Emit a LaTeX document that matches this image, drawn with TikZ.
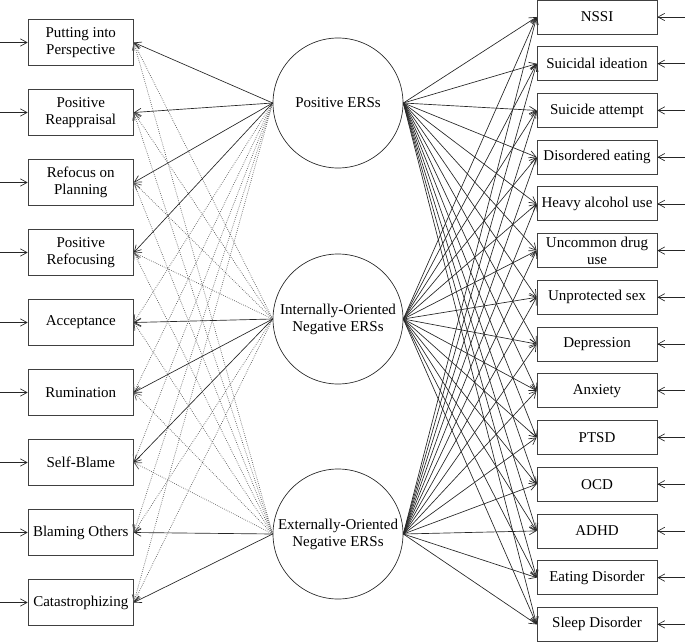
\documentclass[tikz,border=0pt]{standalone}
\usepackage{fontspec}
\setmainfont{Liberation Serif}
\usetikzlibrary{arrows.meta}
\tikzstyle{diagram} = [x = 0.75pt, y = -0.75pt, font=\fontsize{11.25}{12.75}\selectfont]
\tikzstyle{leftBoxStyle} = [draw=black!75, minimum width = 79pt, minimum height = 35pt, align=center, inner sep=0pt, line width=0.6pt]
\tikzstyle{rightBoxStyle} = [draw=black!75, minimum width = 90pt, minimum height = 25.5pt, align=center, inner sep=0pt, line width=0.6pt]
\tikzstyle{factorStyle} = [draw=black!85, circle, minimum size = 97.5pt, align=center, inner sep=0pt, line width=0.5pt]
\tikzstyle{pathArrow} = [-{Straight Barb[length=5pt, width=5.5pt]}, line width=0.5pt, black!85]
\tikzstyle{crossPath} = [pathArrow, densely dotted, black!65, line width=0.55pt]
\newcommand{\leftY}[1]{42.5 + 70 * (#1 - 1)}
\newcommand{\rightY}[1]{17 + 46.72 * (#1 - 1)}

\begin{document}
\begin{tikzpicture}[diagram]
  \useasboundingbox (0,0) rectangle (685,642);

  % latent factors
  \node [factorStyle] (pos) at (338,103) {Positive ERSs};
  \node [factorStyle] (intNeg) at (338,319) {Internally-Oriented\\Negative ERSs};
  \node [factorStyle] (extNeg) at (338,534) {Externally-Oriented\\Negative ERSs};

  % strategies
  \foreach \txt [count=\i] in {{Putting into\\Perspective}, {Positive\\Reappraisal},
      {Refocus on\\Planning}, {Positive\\Refocusing}, Acceptance, Rumination,
      Self-Blame, Blaming Others, Catastrophizing} {
    \node [leftBoxStyle] (l\i) at (80.75, {\leftY{\i}}) {\txt};
    \coordinate (lIn\i) at (0, {\leftY{\i}});
    \draw [pathArrow] (lIn\i) -- (l\i.west);
  }

  % outcomes
  \foreach \txt [count=\j] in {NSSI, Suicidal ideation, Suicide attempt,
      Disordered eating, Heavy alcohol use, {Uncommon drug\\use}, Unprotected sex,
      Depression, Anxiety, PTSD, OCD, ADHD, Eating Disorder, Sleep Disorder} {
    \node [rightBoxStyle] (r\j) at (597, {\rightY{\j}}) {\txt};
    \coordinate (rIn\j) at (685, {\rightY{\j}});
    \draw [pathArrow] (rIn\j) -- (r\j.east);
  }

  % cross loadings
  \foreach \i in {5,...,9}
    \draw [crossPath] (pos.west) -- (l\i.east);
  \foreach \i in {1,...,4,8,9}
    \draw [crossPath] (intNeg.west) -- (l\i.east);
  \foreach \i in {1,...,7}
    \draw [crossPath] (extNeg.west) -- (l\i.east);

  % main loadings
  \foreach \i in {1,...,4}
    \draw [pathArrow] (pos.west) -- (l\i.east);
  \foreach \i in {5,6,7}
    \draw [pathArrow] (intNeg.west) -- (l\i.east);
  \foreach \i in {8,9}
    \draw [pathArrow] (extNeg.west) -- (l\i.east);

  % regressions
  \foreach \f in {pos, intNeg, extNeg}
    \foreach \j in {1,...,14}
      \draw [pathArrow] (\f.east) -- (r\j.west);
\end{tikzpicture}
\end{document}
